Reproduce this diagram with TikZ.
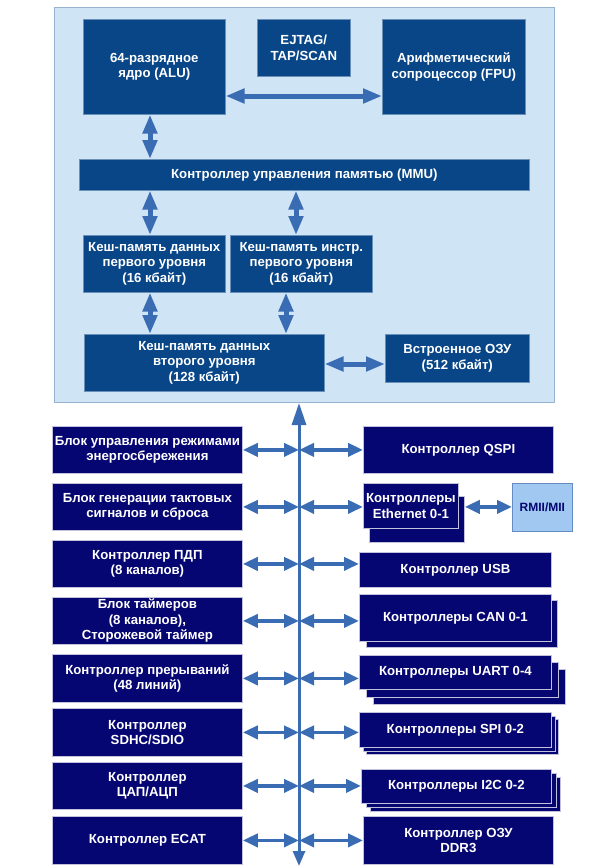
\documentclass[tikz,border=0pt]{standalone}
\usepackage{fontspec}
\setmainfont{Liberation Sans}
\usetikzlibrary{arrows.meta}
\definecolor{topblue}{RGB}{8,70,136}
\definecolor{navyb}{RGB}{6,6,114}
\definecolor{panelc}{RGB}{207,228,245}
\definecolor{panelb}{RGB}{150,180,208}
\definecolor{arrc}{RGB}{58,108,180}
\definecolor{rmiic}{RGB}{160,200,240}
\definecolor{rmiib}{RGB}{100,140,195}
\tikzset{
 base/.style={anchor=north west, inner sep=1pt, align=center, text=white, font=\fontsize{13.2}{15.5}\selectfont\bfseries},
 topbox/.style={base, fill=topblue, draw=topblue!60!white, line width=0.6pt},
 botbox/.style={base, fill=navyb, draw=white!75!navyb, line width=0.8pt},
 panelbox/.style={anchor=north west, fill=panelc, draw=panelb, line width=1pt, inner sep=0pt},
 rmiibox/.style={base, fill=rmiic, draw=rmiib, line width=0.8pt, text=navyb, font=\fontsize{12}{14}\selectfont\bfseries},
 bigarr/.style={draw=arrc, line width=5pt, {Triangle[length=19pt,width=14pt]}-{Triangle[length=19pt,width=14pt]}},
 smallarr/.style={draw=arrc, line width=3.8pt, {Triangle[length=15pt,width=13pt]}-{Triangle[length=15pt,width=13pt]}},
 busarr/.style={draw=arrc, line width=3pt, {Triangle[length=22pt,width=14pt]}-{Triangle[length=15pt,width=12pt]}},
}
\newcommand\bx[7]{\node[#6, minimum width={(#4-#2)*1pt}, minimum height={(#5-#3)*1pt}] (#1) at (#2,#3) {#7};}
\begin{document}
\begin{tikzpicture}[x=1pt,y=-1pt]
\useasboundingbox (0,0) rectangle (595,867);
% panel
\bx{panel}{54}{7}{554}{402}{panelbox}{}
% top boxes
\bx{alu}{83}{19}{225}{114}{topbox}{64-разрядное\\ядро (ALU)}
\bx{ejtag}{257}{19}{350}{76}{topbox}{EJTAG/\\TAP/SCAN}
\bx{fpu}{382}{19}{525}{114}{topbox}{Арифметический\\сопроцессор (FPU)}
\bx{mmu}{79}{159}{529}{190}{topbox}{Контроллер управления памятью (MMU)}
\bx{l1d}{83}{235}{225}{292}{topbox}{Кеш-память данных\\первого уровня\\(16 кбайт)}
\bx{l1i}{230}{235}{372}{292}{topbox}{Кеш-память инстр.\\первого уровня\\(16 кбайт)}
\bx{l2}{84}{334}{324}{391}{topbox}{Кеш-память данных\\второго уровня\\(128 кбайт)}
\bx{ozu}{385}{334}{529}{382}{topbox}{Встроенное ОЗУ\\(512 кбайт)}
% top connectors
\coordinate (ya) at (0,96);
\coordinate (xa) at (150,0);
\coordinate (xb) at (296,0);
\coordinate (xc) at (286,0);
\coordinate (yb) at (0,364);
\draw[bigarr] (alu.east |- ya) -- (fpu.west |- ya);
\draw[bigarr] (alu.south -| xa) -- (mmu.north -| xa);
\draw[bigarr] (mmu.south -| xa) -- (l1d.north -| xa);
\draw[bigarr] (mmu.south -| xb) -- (l1i.north -| xb);
\draw[bigarr] (l1d.south -| xa) -- (l2.north -| xa);
\draw[bigarr] (l1i.south -| xc) -- (l2.north -| xc);
\draw[bigarr] (l2.east |- yb) -- (ozu.west |- yb);
% left column
\bx{a1}{52}{426}{242}{473}{botbox}{Блок управления режимами\\энергосбережения}
\bx{a2}{52}{483}{242}{530}{botbox}{Блок генерации тактовых\\сигналов и сброса}
\bx{a3}{52}{540}{242}{587}{botbox}{Контроллер ПДП\\(8 каналов)}
\bx{a4}{52}{597}{242}{644}{botbox}{Блок таймеров\\(8 каналов),\\Сторожевой таймер}
\bx{a5}{52}{654}{242}{702}{botbox}{Контроллер прерываний\\(48 линий)}
\bx{a6}{52}{708}{242}{756}{botbox}{Контроллер\\SDHC/SDIO}
\bx{a7}{52}{762}{242}{809}{botbox}{Контроллер\\ЦАП/АЦП}
\bx{a8}{52}{816}{242}{864}{botbox}{Контроллер ECAT}
% right column
\bx{qspi}{363}{426}{553}{473}{botbox}{Контроллер QSPI}
\bx{ethb}{369}{496}{464}{542}{botbox}{}
\bx{eth}{363}{483}{458}{528}{botbox}{Контроллеры\\Ethernet 0-1}
\bx{rmii}{512}{483}{572}{531}{rmiibox}{RMII/MII}
\bx{usb}{359}{552}{551}{587}{botbox}{Контроллер USB}
\bx{canb}{366}{600}{557}{647}{botbox}{}
\bx{can}{359}{594}{551}{641}{botbox}{Контроллеры CAN 0-1}
\bx{uartc}{373}{669}{565}{704}{botbox}{}
\bx{uartb}{366}{662}{558}{697}{botbox}{}
\bx{uart}{359}{655}{551}{689}{botbox}{Контроллеры UART 0-4}
\bx{spic}{366}{719}{558}{754}{botbox}{}
\bx{spib}{363}{716}{555}{751}{botbox}{}
\bx{spi}{359}{712}{551}{747}{botbox}{Контроллеры SPI 0-2}
\bx{iicc}{370}{777}{560}{811}{botbox}{}
\bx{iicb}{366}{773}{556}{807}{botbox}{}
\bx{iic}{361}{769}{551}{803}{botbox}{Контроллеры I2C 0-2}
\bx{ddr}{363}{816}{553}{864}{botbox}{Контроллер ОЗУ\\DDR3}
% bus
\coordinate (busB) at (299,866);
\draw[busarr] (panel.south -| busB) -- (busB);
\foreach \i/\r in {1/qspi,2/eth,3/usb,4/can,5/uart,6/spi,7/iic,8/ddr}{
  \coordinate (b\i) at (a\i.east -| busB);
  \draw[smallarr] (a\i.east) -- (b\i);
  \draw[smallarr] (b\i) -- (\r.west |- b\i);
}
\draw[smallarr] (ethb.east |- b2) -- (rmii.west |- b2);
\end{tikzpicture}
\end{document}
